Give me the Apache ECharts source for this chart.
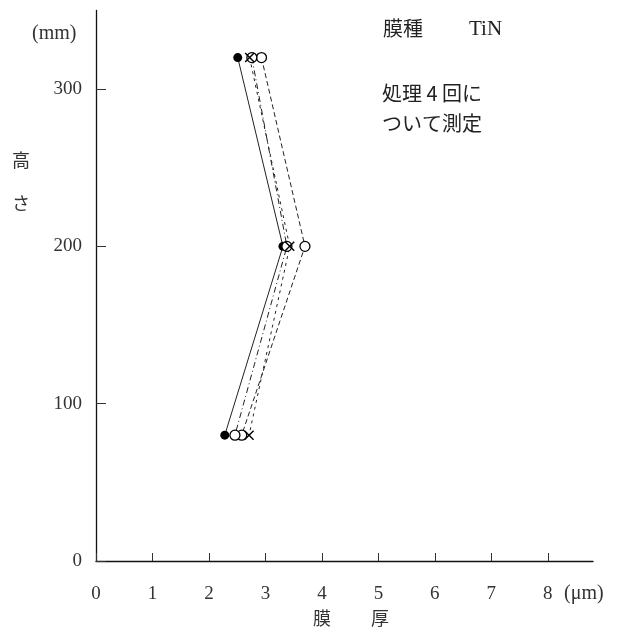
<!DOCTYPE html>
<html><head><meta charset="utf-8">
<script src="https://cdn.jsdelivr.net/npm/echarts@6/dist/echarts.min.js"></script>
<style>html,body{margin:0;padding:0;background:#fff}#c{width:625px;height:632px}</style>
</head><body><div id="c"></div>
<script>
const heights = [320, 200, 80];
const xTicks = [0, 1, 2, 3, 4, 5, 6, 7, 8];
const yTicks = [0, 100, 200, 300];
const seriesFilled = [2.51, 3.31, 2.28];
const seriesOpenA = [2.93, 3.70, 2.58];
const seriesOpenB = [2.76, 3.38, 2.46];
const seriesCross = [2.72, 3.43, 2.71];

const cross = 'path://M0,1L1,0L5,4L9,0L10,1L6,5L10,9L9,10L5,6L1,10L0,9L4,5Z';
function mk(vals){ return vals.map((v,i)=>[v, heights[i]]); }
const serif = '"Liberation Serif","DejaVu Serif",serif';
const jp = '"Noto Sans CJK JP",sans-serif';

const chart = echarts.init(document.getElementById('c'));
chart.setOption({
  animation:false,
  grid:{left:96, right:32, top:10.4, bottom:71},
  xAxis:{type:'value', min:0, max:8.8, interval:1,
    axisLine:{lineStyle:{color:'#111', width:1.3}},
    axisTick:{inside:true, length:8, lineStyle:{color:'#333'}},
    axisLabel:{showMaxLabel:false, color:'#333', fontFamily:serif, fontSize:19, margin:24,
      formatter:v=>xTicks.includes(v)?String(v):''},
    splitLine:{show:false}},
  yAxis:{type:'value', min:0, max:350, interval:100,
    axisLine:{show:true, lineStyle:{color:'#111', width:1.3}},
    axisTick:{show:true, inside:true, length:10, lineStyle:{color:'#333'}},
    axisLabel:{showMaxLabel:false, color:'#333', fontFamily:serif, fontSize:19, margin:14,
      formatter:v=>yTicks.includes(v)?String(v):''},
    splitLine:{show:false}},
  series:[
    {type:'line', data:mk(seriesFilled), symbol:'circle', symbolSize:9,
      itemStyle:{color:'#000'}, lineStyle:{color:'#222', width:1, type:'solid'}},
    {type:'line', data:mk(seriesOpenA), symbol:'circle', symbolSize:10,
      itemStyle:{color:'#fff', borderColor:'#000', borderWidth:1.3}, lineStyle:{color:'#222', width:1, type:[5,3]}},
    {type:'line', data:mk(seriesOpenB), symbol:'circle', symbolSize:10,
      itemStyle:{color:'#fff', borderColor:'#000', borderWidth:1.3}, lineStyle:{color:'#222', width:1, type:[6,3,1,3]}},
    {type:'line', data:mk(seriesCross), symbol:cross, symbolSize:10,
      itemStyle:{color:'#000'}, lineStyle:{color:'#222', width:1, type:[3,4]}}
  ],
  graphic:[
    {type:'text', left:32, top:24, style:{text:'(mm)', font:'20px '+serif, fill:'#333'}},
    {type:'text', left:12, top:151, style:{text:'高', font:'18px '+jp, fill:'#333'}},
    {type:'text', left:12, top:194, style:{text:'さ', font:'18px '+jp, fill:'#333'}},
    {type:'text', left:383, top:18, style:{text:'膜種', font:'20px '+jp, fill:'#222'}},
    {type:'text', left:469, top:19, style:{text:'TiN', font:'21px '+serif, fill:'#222'}},
    {type:'text', left:382, top:83, style:{text:'処理 4 回に', font:'20px '+jp, fill:'#222'}},
    {type:'text', left:382, top:113, style:{text:'ついて測定', font:'20px '+jp, fill:'#222'}},
    {type:'text', left:564, top:584, style:{text:'(μm)', font:'20px '+serif, fill:'#333'}},
    {type:'text', left:313, top:609, style:{text:'膜', font:'18px '+jp, fill:'#333'}},
    {type:'text', left:371, top:609, style:{text:'厚', font:'18px '+jp, fill:'#333'}}
  ]
});
</script></body></html>
